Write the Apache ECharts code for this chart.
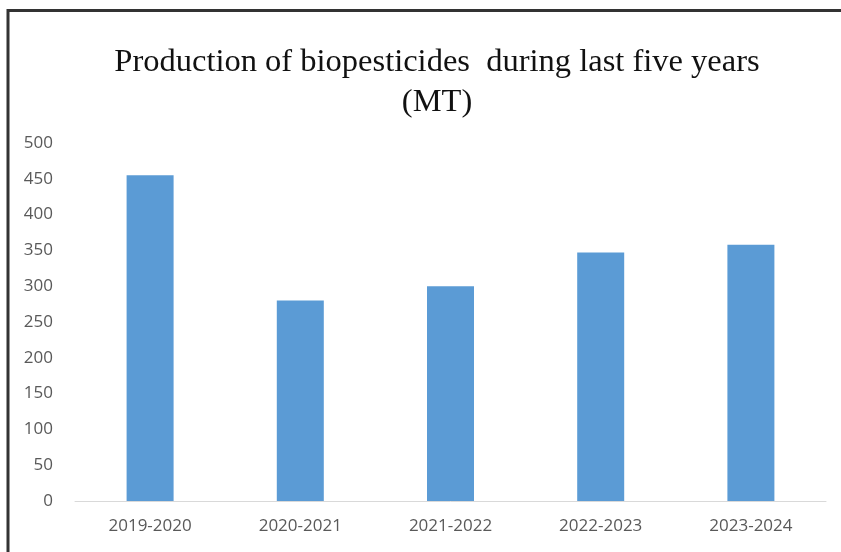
<!DOCTYPE html>
<html>
<head>
<meta charset="utf-8">
<script src="https://cdn.jsdelivr.net/npm/echarts@6/dist/echarts.min.js"></script>
<style>
  html, body { margin: 0; padding: 0; background: #fff; }
  #chart { width: 841px; height: 552px; }
</style>
</head>
<body>
<div id="chart"></div>
<script>
// data
const years = ['2019-2020', '2020-2021', '2021-2022', '2022-2023', '2023-2024'];
const production = [455, 280, 300, 347, 358];

const myChart = echarts.init(document.getElementById('chart'));
myChart.setOption({
    animation: false,
    title: {
        text: 'Production of biopesticides  during last five years\n(MT)',
        left: 432,
        top: 37,
        textAlign: 'center',
        textStyle: {
            fontFamily: 'Liberation Serif',
            fontWeight: 'normal',
            fontSize: 32.5,
            lineHeight: 40,
            color: '#111'
        }
    },
    graphic: [{
        // frame around the chart
        type: 'polyline',
        shape: { points: [[8, 560], [8, 10.5], [845, 10.5]] },
        style: { stroke: '#333', lineWidth: 3, fill: null }
    }],
    grid: {
        left: 75,
        right: 15,
        top: 143,
        bottom: 51,
        containLabel: false
    },
    xAxis: {
        type: 'category',
        data: years,
        axisLine: { lineStyle: { color: '#d9d9d9', width: 1 } },
        axisTick: { show: false },
        axisLabel: {
            color: '#595959',
            fontSize: 17,
            fontFamily: 'Open Sans',
            margin: 17
        }
    },
    yAxis: {
        type: 'value',
        min: 0,
        max: 500,
        interval: 50,
        axisLine: { show: false },
        axisTick: { show: false },
        splitLine: { show: false },
        axisLabel: {
            color: '#595959',
            fontSize: 17,
            fontFamily: 'Open Sans',
            margin: 22
        }
    },
    series: [{
        type: 'bar',
        data: production,
        barWidth: 47,
        itemStyle: { color: '#5b9bd5' }
    }]
});
</script>
</body>
</html>
